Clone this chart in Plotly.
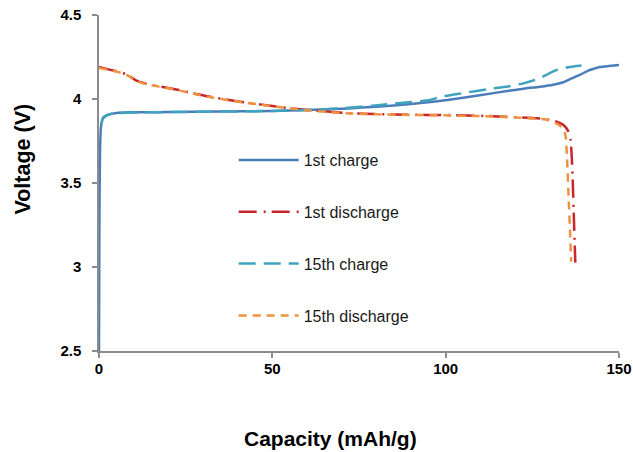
import plotly.graph_objects as go

# ---- data ----
cap_1st_charge = [0, 0.1, 0.3, 0.6, 1.2, 2.5, 5, 9, 20, 35, 50, 60, 72, 80, 90, 97, 105, 114.7,
                  122, 127.2, 131, 133.9, 136, 138.7, 141, 142.6, 144.5, 147, 150]
v_1st_charge = [2.5, 3.2, 3.7, 3.84, 3.89, 3.905, 3.916, 3.921, 3.922, 3.925, 3.929, 3.934, 3.944,
                3.954, 3.97, 3.985, 4.007, 4.038, 4.06, 4.073, 4.085, 4.1, 4.12, 4.143, 4.168,
                4.179, 4.19, 4.196, 4.202]

cap_1st_discharge = [0, 3, 6.5, 8.5, 10.5, 12.8, 16, 20, 23.4, 28, 33, 38, 42.6, 46.4, 50, 55, 60,
                     66, 72.4, 80, 90, 98.4, 110, 120, 126.3, 129.1, 132, 134, 135.3, 136, 136.5,
                     136.9, 137.2, 137.4]
v_1st_discharge = [4.19, 4.175, 4.158, 4.14, 4.113, 4.095, 4.08, 4.066, 4.052, 4.03, 4.01, 3.993,
                   3.978, 3.968, 3.958, 3.945, 3.935, 3.925, 3.915, 3.91, 3.906, 3.905, 3.9, 3.892,
                   3.885, 3.879, 3.865, 3.845, 3.81, 3.76, 3.6, 3.35, 3.15, 3.026]

cap_15th_charge = [0.6, 1.2, 2, 3, 6, 10, 20, 35, 50, 60, 70, 81, 90, 95.5, 98.4, 105, 112, 118,
                   122.4, 126, 129.1, 131, 133, 135, 137, 139.2]
v_15th_charge = [3.85, 3.885, 3.9, 3.91, 3.917, 3.92, 3.922, 3.925, 3.929, 3.935, 3.945, 3.964,
                 3.982, 3.994, 4.012, 4.035, 4.058, 4.075, 4.093, 4.115, 4.143, 4.165, 4.179,
                 4.188, 4.194, 4.199]

cap_15th_discharge = [0, 3, 6.5, 8.5, 10.5, 12.8, 16, 20, 23.4, 28, 33, 38, 42.6, 46.4, 50, 55, 60,
                      66, 72.4, 80, 90, 98.4, 110, 120, 126, 128.6, 131.5, 133.9, 134.6, 135,
                      135.5, 135.9, 136.2]
v_15th_discharge = [4.185, 4.172, 4.155, 4.138, 4.11, 4.093, 4.078, 4.064, 4.05, 4.028, 4.008,
                    3.991, 3.977, 3.967, 3.957, 3.944, 3.933, 3.923, 3.914, 3.909, 3.905, 3.903,
                    3.898, 3.89, 3.883, 3.879, 3.86, 3.826, 3.78, 3.65, 3.4, 3.2, 3.032]

series_names = ["1st charge", "1st discharge", "15th charge", "15th discharge"]

x_ticks = [0, 50, 100, 150]
y_ticks = [2.5, 3, 3.5, 4, 4.5]

x_title = "Capacity (mAh/g)"
y_title = "Voltage (V)"

# ---- styles ----
colors = ["#4A7EBB", "#C8262C", "#3FA3BE", "#EE9240"]
dashes = ["solid", "18px,7px,2px,6px", "17px,8px", "8px,6px"]

series = [
    (cap_1st_charge, v_1st_charge),
    (cap_1st_discharge, v_1st_discharge),
    (cap_15th_charge, v_15th_charge),
    (cap_15th_discharge, v_15th_discharge),
]

fig = go.Figure()
for i, (xs, ys) in enumerate(series):
    fig.add_trace(go.Scatter(
        x=xs, y=ys, mode="lines", name=series_names[i],
        legendgroup=series_names[i],
        line=dict(color=colors[i], width=2.5, dash=dashes[i], shape="spline", smoothing=0.6),
    ))

axis_color = "#8C8C8C"
fig.update_layout(
    width=633, height=452,
    margin=dict(l=99, r=14, t=15, b=101, autoexpand=False),
    paper_bgcolor="white", plot_bgcolor="white",
    font=dict(family="Liberation Sans, Arial, sans-serif", color="#000000"),
    legend=dict(
        x=0.259, y=0.336, xanchor="left", yanchor="middle",
        bgcolor="rgba(0,0,0,0)", borderwidth=0,
        font=dict(size=16, color="#1a1a1a"),
        itemwidth=60, tracegroupgap=28,
    ),
    showlegend=True,
    annotations=[
        dict(text=x_title, xref="paper", yref="paper", x=0.446, y=-0.259,
             xanchor="center", yanchor="middle", showarrow=False,
             font=dict(size=21, weight="bold", color="#000000")),
        dict(text=y_title, xref="paper", yref="paper", x=-0.146, y=0.570,
             xanchor="center", yanchor="middle", showarrow=False, textangle=-90,
             font=dict(size=21.5, weight="bold", color="#000000")),
    ],
)
fig.update_xaxes(
    range=[0, 150], tickvals=x_ticks, showgrid=False, zeroline=False, automargin=False,
    showline=True, linecolor=axis_color, linewidth=1.5,
    ticks="outside", ticklen=5, tickcolor=axis_color, tickwidth=1.5,
    ticklabelstandoff=-2, ticklabeloverflow="allow",
    tickfont=dict(size=15, weight="bold"),
)
fig.update_yaxes(
    range=[2.5, 4.5], tickvals=y_ticks, showgrid=False, zeroline=False, automargin=False,
    showline=True, linecolor=axis_color, linewidth=1.5,
    ticks="outside", ticklen=5, tickcolor=axis_color, tickwidth=1.5,
    ticklabelstandoff=8, ticklabeloverflow="allow",
    tickfont=dict(size=15, weight="bold"),
)

fig.write_html(
    "out.html",
    config={"displayModeBar": False},
    post_script="document.body.style.margin='0';document.body.style.overflow='hidden';",
)
